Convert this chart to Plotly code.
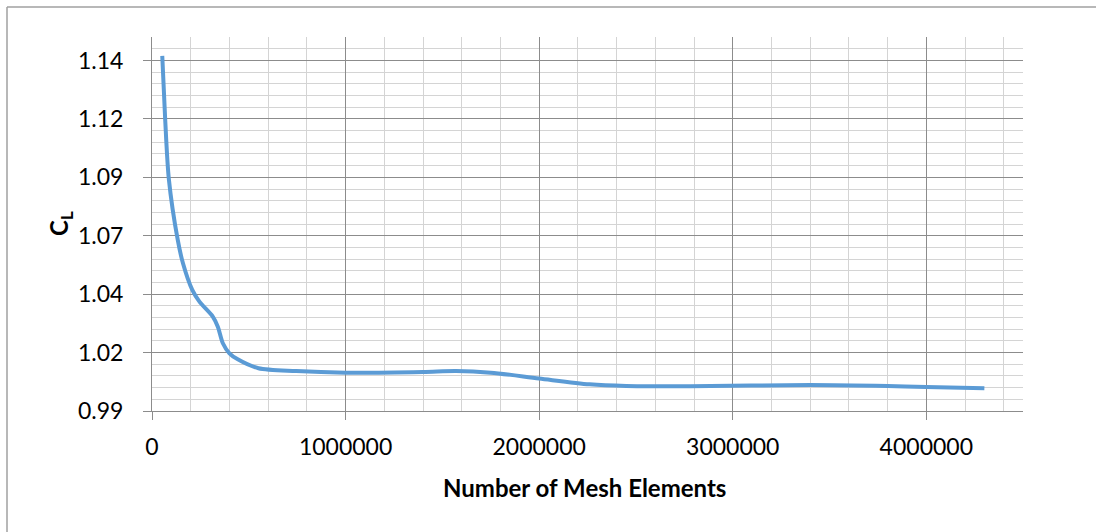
import plotly.graph_objects as go

# Data
mesh_elements = [53000, 68000, 87000, 133000, 160000, 208000, 245000, 314000, 340000,
                 366000, 400000, 443000, 550000, 745000, 1000000, 1400000, 1570000,
                 1750000, 2000000, 2260000, 2450000, 2780000, 3400000, 3800000,
                 4000000, 4300000]
cl_values = [1.142, 1.115, 1.0893, 1.0632, 1.0532, 1.0418, 1.0368, 1.0304, 1.0261,
             1.019, 1.0147, 1.0121, 1.0083, 1.0071, 1.0064, 1.0067, 1.0071,
             1.0064, 1.0039, 1.0014, 1.0007, 1.0006, 1.0011, 1.0007,
             1.0003, 0.9997]

y_tick_vals = [0.99, 1.015, 1.04, 1.065, 1.09, 1.115, 1.14]
y_tick_labels = ["0.99", "1.02", "1.04", "1.07", "1.09", "1.12", "1.14"]
x_tick_vals = [0, 1000000, 2000000, 3000000, 4000000]
x_tick_labels = ["0", "1000000", "2000000", "3000000", "4000000"]

FONT = "Lato, Carlito, Calibri, sans-serif"
MAJOR = "#8c8c8c"
MINOR = "#d4d4d4"

W, H = 1096, 532
L, T, PW, PH = 152, 37, 871, 374

fig = go.Figure()
fig.add_trace(go.Scatter(
    x=mesh_elements, y=cl_values, mode="lines",
    line=dict(color="#5b9bd5", width=4, shape="spline", smoothing=0.8),
    showlegend=False, hoverinfo="skip",
))

bx = (7 - L) / PW            # left border (paper x)
by = (PH + T - 7) / PH       # top border (paper y)
right_edge = (W - L) / PW
bottom_edge = -(H - T - PH) / PH

fig.update_layout(
    width=W, height=H,
    margin=dict(l=L, r=W - L - PW, t=T, b=H - T - PH),
    paper_bgcolor="white", plot_bgcolor="white",
    font=dict(family=FONT, size=23, color="#000000"),
    xaxis=dict(
        range=[0, 4499500], tickmode="array", tickvals=x_tick_vals, ticktext=x_tick_labels,
        showgrid=True, gridcolor=MAJOR, gridwidth=1,
        minor=dict(tick0=0, dtick=200000, showgrid=True, gridcolor=MINOR, gridwidth=1.3, ticks=""),
        showline=True, linecolor=MAJOR, linewidth=1,
        ticks="outside", ticklen=8, tickcolor=MAJOR, tickwidth=1,
        ticklabelstandoff=7, zeroline=False,
        tickfont=dict(family=FONT, size=23),
    ),
    yaxis=dict(
        range=[0.99, 1.15005], tickmode="array", tickvals=y_tick_vals, ticktext=y_tick_labels,
        showgrid=True, gridcolor=MAJOR, gridwidth=1,
        minor=dict(tick0=0.99, dtick=0.005, showgrid=True, gridcolor=MINOR, gridwidth=1.3, ticks=""),
        showline=True, linecolor=MAJOR, linewidth=1,
        ticks="outside", ticklen=8, tickcolor=MAJOR, tickwidth=1,
        ticklabelstandoff=15, zeroline=False,
        tickfont=dict(family=FONT, size=23),
    ),
    annotations=[
        dict(text="<b>Number of Mesh Elements</b>", xref="paper", yref="paper",
             x=(584 - L) / PW, y=(411 - 487) / PH, xanchor="center", yanchor="middle",
             showarrow=False, font=dict(family=FONT, size=24)),
        dict(text="<b>C<sub>L</sub></b>", xref="paper", yref="paper",
             x=(60 - L) / PW, y=0.5, xanchor="center", yanchor="middle", textangle=-90,
             showarrow=False, font=dict(family=FONT, size=24)),
    ],
    shapes=[
        dict(type="line", xref="paper", yref="paper", x0=bx, x1=right_edge, y0=by, y1=by,
             line=dict(color="#a0a0a0", width=1.5), layer="below"),
        dict(type="line", xref="paper", yref="paper", x0=bx, x1=bx, y0=bottom_edge, y1=by,
             line=dict(color="#a0a0a0", width=1.5), layer="below"),
    ],
)

fig.write_html(
    "out.html",
    config={"displayModeBar": False},
    post_script="document.body.style.margin='0';document.body.style.overflow='hidden';",
)
